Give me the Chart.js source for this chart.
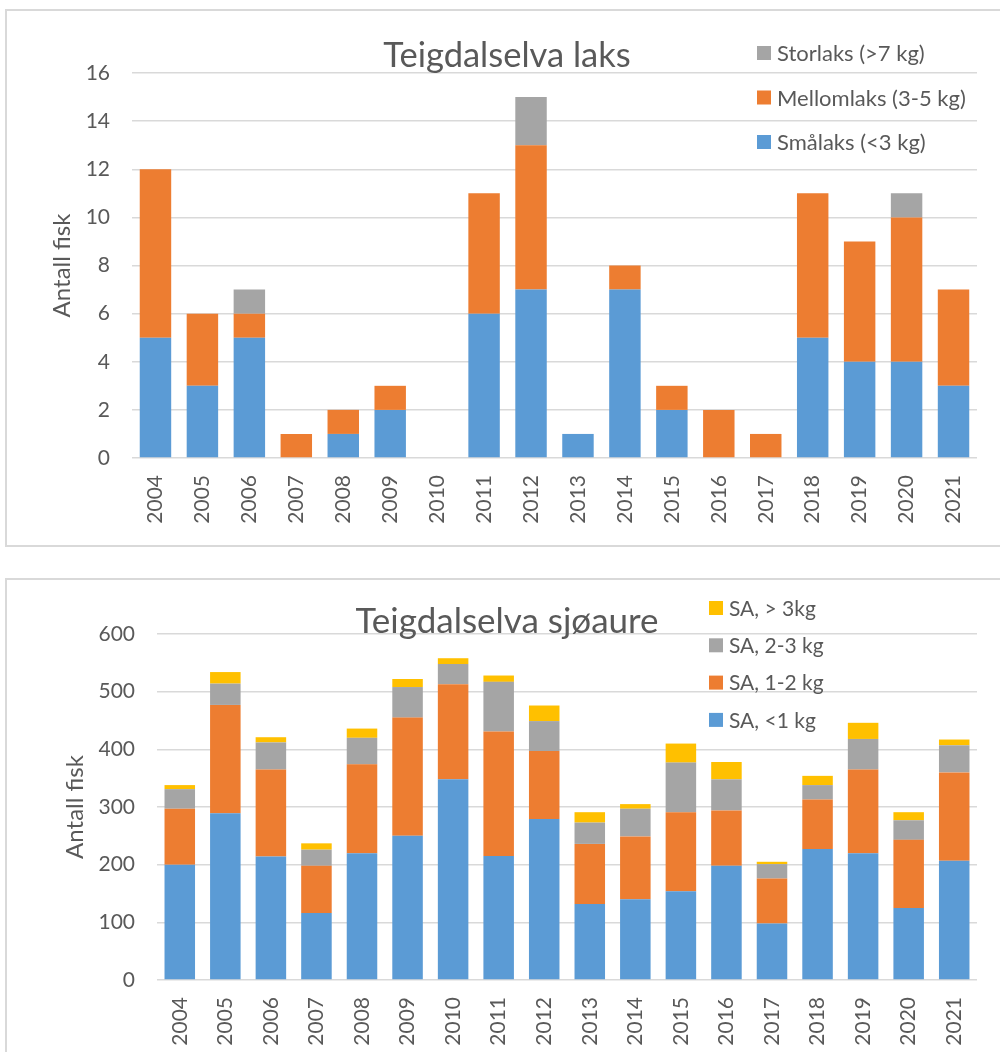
<!DOCTYPE html>
<html>
<head>
<meta charset="utf-8">
<script src="https://cdn.jsdelivr.net/npm/chart.js@4.4.1/dist/chart.umd.min.js"></script>
<style>
  body { margin: 0; background: #fff; width: 1000px; height: 1052px; overflow: hidden; position: relative; }
  .frame { position: absolute; left: 5px; width: 1010px; border: 2px solid #d9d9d9; box-sizing: border-box; }
  #frame1 { top: 9px; height: 538px; }
  #frame2 { top: 578px; height: 500px; }
  canvas { position: absolute; }
  #laks { left: 6px; top: 10px; }
  #sjoaure { left: 6px; top: 580px; }
</style>
</head>
<body>
<div class="frame" id="frame1"></div>
<div class="frame" id="frame2"></div>
<canvas id="laks" width="994" height="535"></canvas>
<canvas id="sjoaure" width="994" height="472"></canvas>
<script>
var years = ['2004', '2005', '2006', '2007', '2008', '2009', '2010', '2011', '2012',
    '2013', '2014', '2015', '2016', '2017', '2018', '2019', '2020', '2021'];

// Teigdalselva laks
var smalaks = [5, 3, 5, 0, 1, 2, 0, 6, 7, 1, 7, 2, 0, 0, 5, 4, 4, 3];
var mellomlaks = [7, 3, 1, 1, 1, 1, 0, 5, 6, 0, 1, 1, 2, 1, 6, 5, 6, 4];
var storlaks = [0, 0, 1, 0, 0, 0, 0, 0, 2, 0, 0, 0, 0, 0, 0, 0, 1, 0];
var laksMax = 16, laksStep = 2;

// Teigdalselva sjøaure
var saUnder1 = [200, 289, 214, 116, 220, 250, 348, 215, 279, 132, 140, 154, 198, 98, 227, 220, 125, 207];
var sa1til2 = [97, 188, 151, 82, 154, 205, 165, 216, 118, 104, 109, 137, 96, 78, 86, 145, 118, 153];
var sa2til3 = [34, 37, 47, 28, 46, 53, 35, 86, 52, 37, 48, 86, 54, 25, 25, 53, 34, 47];
var saOver3 = [7, 20, 9, 11, 16, 14, 10, 11, 27, 18, 8, 33, 30, 4, 16, 28, 14, 10];
var sjoMax = 600, sjoStep = 100;

var textColor = '#595959';
var gridColor = '#d9d9d9';
var fontFamily = 'Lato, "Open Sans", sans-serif';

// title + legend drawn inside the plot, like the Excel original
var boxText = {
    id: 'boxText',
    afterDraw: function (chart, args, opts) {
        var ctx = chart.ctx;
        ctx.save();
        ctx.fillStyle = textColor;
        ctx.font = opts.titleSize + 'px ' + fontFamily;
        ctx.textAlign = 'center';
        ctx.textBaseline = 'middle';
        ctx.fillText(opts.title, opts.titleX, opts.titleY);

        ctx.font = opts.legendSize + 'px ' + fontFamily;
        ctx.textAlign = 'left';
        var sets = chart.data.datasets.slice().reverse();
        for (var i = 0; i < sets.length; i++) {
            var y = opts.legendY + i * opts.legendGap;
            ctx.fillStyle = sets[i].backgroundColor;
            ctx.fillRect(opts.legendX, y - 7, 14, 14);
            ctx.fillStyle = textColor;
            ctx.fillText(sets[i].label, opts.legendX + 20, y + 1);
        }
        ctx.restore();
    }
};

function makeScales(max, step, yWidth, xHeight, titlePad) {
    return {
        x: {
            stacked: true,
            grid: { display: false, drawTicks: false },
            border: { display: false },
            ticks: {
                color: textColor,
                font: { family: fontFamily, size: 21 },
                minRotation: 90,
                maxRotation: 90,
                autoSkip: false,
                padding: 17
            },
            afterFit: function (s) { s.height = xHeight; }
        },
        y: {
            stacked: true,
            min: 0,
            max: max,
            grid: { color: gridColor, lineWidth: 1.5, drawTicks: false },
            border: { display: false },
            ticks: {
                stepSize: step,
                color: textColor,
                font: { family: fontFamily, size: 21 },
                padding: 22
            },
            title: {
                display: true,
                text: 'Antall fisk',
                color: textColor,
                font: { family: fontFamily, size: 24 },
                padding: { top: titlePad, bottom: 0 }
            },
            afterFit: function (s) { s.width = yWidth; }
        }
    };
}

function barSet(label, data, color) {
    return {
        label: label,
        data: data,
        backgroundColor: color,
        borderWidth: 0,
        categoryPercentage: 1,
        barPercentage: 0.67
    };
}

new Chart(document.getElementById('laks'), {
    type: 'bar',
    data: {
        labels: years,
        datasets: [
            barSet('Smålaks (<3 kg)', smalaks, '#5b9bd5'),
            barSet('Mellomlaks (3-5 kg)', mellomlaks, '#ed7d31'),
            barSet('Storlaks (>7 kg)', storlaks, '#a5a5a5')
        ]
    },
    options: {
        responsive: false,
        animation: false,
        layout: { padding: { left: 0, right: 23, top: 63, bottom: 0 } },
        scales: makeScales(laksMax, laksStep, 126, 87, 41.5),
        plugins: {
            legend: { display: false },
            tooltip: { enabled: false },
            boxText: {
                title: 'Teigdalselva laks', titleSize: 34.5, titleX: 501, titleY: 46,
                legendSize: 22, legendX: 751, legendY: 43, legendGap: 44.5
            }
        }
    },
    plugins: [boxText]
});

new Chart(document.getElementById('sjoaure'), {
    type: 'bar',
    data: {
        labels: years,
        datasets: [
            barSet('SA, <1 kg', saUnder1, '#5b9bd5'),
            barSet('SA, 1-2 kg', sa1til2, '#ed7d31'),
            barSet('SA, 2-3 kg', sa2til3, '#a5a5a5'),
            barSet('SA, > 3kg', saOver3, '#ffc000')
        ]
    },
    options: {
        responsive: false,
        animation: false,
        layout: { padding: { left: 0, right: 23, top: 54, bottom: 0 } },
        scales: makeScales(sjoMax, sjoStep, 151, 72, 54.5),
        plugins: {
            legend: { display: false },
            tooltip: { enabled: false },
            boxText: {
                title: 'Teigdalselva sjøaure', titleSize: 35, titleX: 501, titleY: 42,
                legendSize: 21, legendX: 703, legendY: 28, legendGap: 37.3
            }
        }
    },
    plugins: [boxText]
});
</script>
</body>
</html>
